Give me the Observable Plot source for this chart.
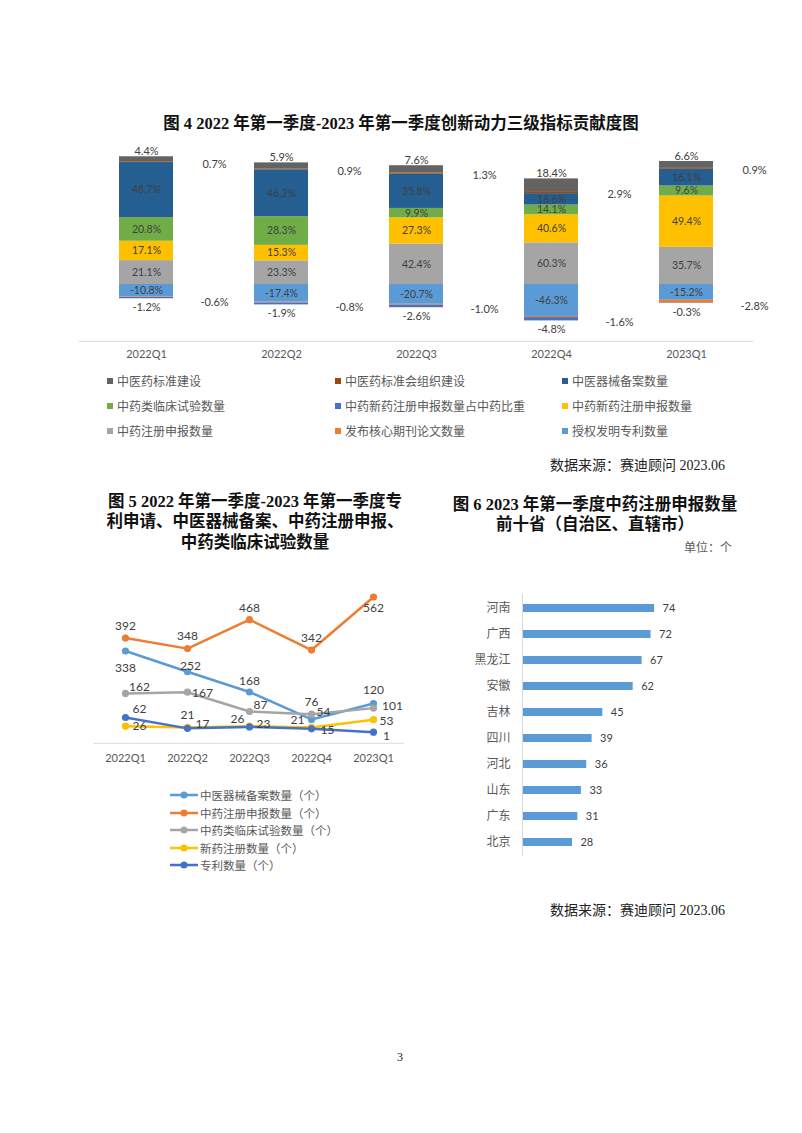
<!DOCTYPE html>
<html><head><meta charset="utf-8">
<script src="https://cdn.jsdelivr.net/npm/d3@7"></script>
<script src="https://cdn.jsdelivr.net/npm/@observablehq/plot@0.6"></script>
<style>
body{margin:0;background:#fff;}
#page{position:relative;width:802px;height:1133px;overflow:hidden;background:#fff;font-family:"Noto Sans CJK SC",sans-serif;}
.abs{position:absolute;}
.title{font-family:"Liberation Serif","Noto Sans CJK SC",serif;font-weight:bold;font-size:16.5px;color:#111;white-space:nowrap;line-height:20.5px;text-align:center;}
.leg{font-family:"Noto Sans CJK SC",sans-serif;font-size:12px;color:#595959;white-space:nowrap;line-height:14px;}
.sw{position:absolute;width:6px;height:6px;}
.src{font-family:"Liberation Serif","Noto Sans CJK SC",serif;font-size:14px;color:#222;white-space:nowrap;line-height:20px;}
svg{overflow:visible}
.mk svg{display:block}
</style></head>
<body><div id="page"></div>
<script>
// ---------- Figure 4 data ----------
const quarters = ["2022Q1","2022Q2","2022Q3","2022Q4","2023Q1"];
const stackSeries = ["授权发明专利数量","发布核心期刊论文数量","中药注册申报数量","中药新药注册申报数量","中药新药注册申报数量占中药比重","中药类临床试验数量","中医器械备案数量","中医药标准会组织建设","中医药标准建设"];
const stackColors = ["#5b9bd5","#ed7d31","#a5a5a5","#ffc000","#4472c4","#70ad47","#255e91","#9e480e","#636363"];
const patents      = [-10.8,-17.4,-20.7,-46.3,-15.2];
const papers       = [-0.6,-0.8,-1.0,-1.6,-2.8];
const tcmReg       = [21.1,23.3,42.4,60.3,35.7];
const newDrugReg   = [17.1,15.3,27.3,40.6,49.4];
const newDrugShare = [-1.2,-1.9,-2.6,-4.8,-0.3];
const clinical     = [20.8,28.3,9.9,14.1,9.6];
const devices      = [48.7,46.2,35.8,16.6,16.1];
const stdOrg       = [0.7,0.9,1.3,2.9,0.9];
const stdBuild     = [4.4,5.9,7.6,18.4,6.6];
const legendOrder = ["中医药标准建设","中医药标准会组织建设","中医器械备案数量","中药类临床试验数量","中药新药注册申报数量占中药比重","中药新药注册申报数量","中药注册申报数量","发布核心期刊论文数量","授权发明专利数量"];

// ---------- Figure 5 data ----------
const lineSeries = ["中医器械备案数量（个）","中药注册申报数量（个）","中药类临床试验数量（个）","新药注册数量（个）","专利数量（个）"];
const lineColors = ["#5b9bd5","#ed7d31","#a5a5a5","#ffc000","#4472c4"];
const deviceCount   = [338,252,168,54,120];
const tcmRegCount   = [392,348,468,342,562];
const clinicalCount = [162,167,87,76,101];
const newDrugCount  = [26,21,26,21,53];
const patentCount   = [62,17,23,15,1];

// ---------- Figure 6 data ----------
const provinces = ["河南","广西","黑龙江","安徽","吉林","四川","河北","山东","广东","北京"];
const provinceCounts = [74,72,67,62,45,39,36,33,31,28];

// ---------- build tables ----------
const stackValues = [patents,papers,tcmReg,newDrugReg,newDrugShare,clinical,devices,stdOrg,stdBuild];
const rows1 = [];
quarters.forEach((q,i)=>{
  const tot = d3.sum(stackValues, arr => Math.abs(arr[i]));
  stackSeries.forEach((s,k)=>{ rows1.push({q, s, v: stackValues[k][i], n: stackValues[k][i]/tot*100}); });
});
const lineValues = [deviceCount,tcmRegCount,clinicalCount,newDrugCount,patentCount];
const rows2 = [];
lineSeries.forEach((s,k)=>quarters.forEach((q,i)=>rows2.push({s,q,i,v:lineValues[k][i]})));
const rows3 = provinces.map((p,i)=>({p, v: provinceCounts[i]}));

const page = document.getElementById("page");
function addDiv(cls, css, html){const d=document.createElement("div");d.className=cls;d.style.cssText=css;d.innerHTML=html;page.appendChild(d);return d;}
function place(node, left, top){node.style.position="absolute";node.style.left=left+"px";node.style.top=top+"px";page.appendChild(node);}

const labelFont = "Lato, 'Open Sans', sans-serif";
const fmt = v => v.toFixed(1) + "%";

// ---------- Figure 4 ----------
addDiv("abs title","left:0;width:802px;top:114px;","图 4 2022 年第一季度-2023 年第一季度创新动力三级指标贡献度图");
const inside = ["授权发明专利数量","中药注册申报数量","中药新药注册申报数量","中药类临床试验数量","中医器械备案数量"];
const chart1 = Plot.plot({
  width: 802, height: 225,
  marginTop: 2, marginBottom: 24.2, marginLeft: 78.5, marginRight: 48.5,
  x: {domain: quarters, paddingInner: 0.6, paddingOuter: 0.3, label: null},
  y: {domain: [-40, 100], axis: null},
  color: {domain: stackSeries, range: stackColors},
  style: {background: "transparent", fontFamily: labelFont, fontSize: "11px"},
  marks: [
    Plot.ruleY([-40], {stroke: "#d9d9d9", strokeWidth: 1}),
    Plot.axisX({tickSize: 0, tickPadding: 9, fill: "#595959", fontSize: 11, fontFamily: labelFont, label: null}),
    Plot.barY(rows1, Plot.stackY({x: "q", y: "n", fill: "s"})),
    Plot.text(rows1, Plot.stackY({x: "q", y: "n", z: "s", text: d => inside.includes(d.s) ? fmt(d.v) : null, fill: "#404040", fontSize: 10.5, fontFamily: labelFont})),
    Plot.text(rows1, Plot.stackY2({x: "q", y: "n", z: "s", text: d => d.s === "中医药标准建设" ? fmt(d.v) : null, fill: "#404040", fontSize: 11, fontFamily: labelFont, dy: -5})),
    Plot.text(rows1, Plot.stackY2({x: "q", y: "n", z: "s", text: d => d.s === "中药新药注册申报数量占中药比重" ? fmt(d.v) : null, fill: "#404040", fontSize: 11, fontFamily: labelFont, dy: 9})),
    Plot.text(rows1, Plot.stackY({x: "q", y: "n", z: "s", text: d => d.s === "中医药标准会组织建设" ? fmt(d.v) : null, fill: "#404040", fontSize: 11, fontFamily: labelFont, dx: 68, dy: 2})),
    Plot.text(rows1, Plot.stackY({x: "q", y: "n", z: "s", text: d => d.s === "发布核心期刊论文数量" ? fmt(d.v) : null, fill: "#404040", fontSize: 11, fontFamily: labelFont, dx: 68, dy: 5}))
  ]
});
place(chart1, 0, 140);

// legend fig 4
const legX = [107, 335, 562], legY = [381, 406, 431];
legendOrder.forEach((s, i) => {
  const col = i % 3, row = Math.floor(i / 3);
  const c = stackColors[stackSeries.indexOf(s)];
  addDiv("sw", `left:${legX[col]}px;top:${legY[row]-3}px;background:${c};`, "");
  addDiv("abs leg", `left:${legX[col]+10}px;top:${legY[row]-7}px;`, s);
});
addDiv("abs src", "right:77px;top:456px;", "数据来源：赛迪顾问 2023.06");

// ---------- Figure 5 ----------
addDiv("abs title","left:55px;width:400px;top:491.5px;","图 5 2022 年第一季度-2023 年第一季度专<br>利申请、中医器械备案、中药注册申报、<br>中药类临床试验数量");
const nudges = [
  [[0,17],[3,-6],[0,-11],[12,-7],[0,-13]],
  [[0,-12],[0,-12],[0,-12],[0,-12],[0,11]],
  [[14,-6],[15,1],[11,-6],[0,-12],[19,-2]],
  [[14,0],[0,-12],[-12,-7],[-14,-7],[13,1]],
  [[14,-8],[15,-4],[14,-3],[16,1],[13,4]]
];
const labelMarks2 = [];
lineSeries.forEach((s, k) => quarters.forEach((q, i) => {
  const [dx, dy] = nudges[k][i];
  labelMarks2.push(Plot.text(rows2.filter(d => d.s === s && d.i === i), {x: "q", y: "v", text: d => String(d.v), dx, dy, fill: "#404040", fontSize: 12, fontFamily: labelFont}));
}));
const chart2 = Plot.plot({
  width: 430, height: 195,
  marginTop: 7.4, marginBottom: 32.2, marginLeft: 94, marginRight: 26,
  x: {type: "point", domain: quarters, padding: 0.5, label: null},
  y: {domain: [-45, 600], axis: null},
  color: {domain: lineSeries, range: lineColors},
  style: {background: "transparent", fontFamily: labelFont},
  marks: [
    Plot.ruleY([-45], {stroke: "#d9d9d9", strokeWidth: 1}),
    Plot.axisX({tickSize: 0, tickPadding: 11, fill: "#595959", fontSize: 11, fontFamily: labelFont, label: null}),
    Plot.line(rows2, {x: "q", y: "v", z: "s", stroke: "s", strokeWidth: 2.5}),
    Plot.dot(rows2, {x: "q", y: "v", fill: "s", r: 3.6}),
    ...labelMarks2
  ]
});
place(chart2, 0, 580);

// legend fig 5
const leg2Y = [795, 812.5, 830, 847.5, 865];
lineSeries.forEach((s, k) => {
  addDiv("abs mk", `left:170px;top:${leg2Y[k]-4}px;width:28px;height:8px;line-height:0;`,
    `<svg width="28" height="8"><line x1="0" y1="4" x2="28" y2="4" stroke="${lineColors[k]}" stroke-width="2.5"/><circle cx="14" cy="4" r="3.5" fill="${lineColors[k]}"/></svg>`);
  addDiv("abs leg", `left:200px;top:${leg2Y[k]-7}px;font-size:11.5px;`, s);
});

// ---------- Figure 6 ----------
addDiv("abs title","left:395px;width:400px;top:494.5px;","图 6 2023 年第一季度中药注册申报数量<br>前十省（自治区、直辖市）");
addDiv("abs leg","right:70px;top:540px;","单位：个");
const chart3 = Plot.plot({
  width: 330, height: 280,
  marginTop: 9, marginBottom: 9, marginLeft: 92, marginRight: 95.2,
  x: {domain: [0, 80], axis: null},
  y: {domain: provinces, paddingInner: 0.68, paddingOuter: 0.34, label: null},
  style: {background: "transparent", fontFamily: labelFont},
  marks: [
    Plot.barX(rows3, {x: "v", y: "p", fill: "#5b9bd5"}),
    Plot.ruleX([0], {stroke: "#d9d9d9", strokeWidth: 1}),
    Plot.axisY({tickSize: 0, tickPadding: 12, fill: "#595959", fontSize: 12, fontFamily: "'Noto Sans CJK SC', sans-serif", label: null}),
    Plot.text(rows3, {x: "v", y: "p", text: d => String(d.v), textAnchor: "start", dx: 8, fill: "#404040", fontSize: 11, fontFamily: labelFont})
  ]
});
place(chart3, 430, 585);

addDiv("abs src", "right:77px;top:901px;", "数据来源：赛迪顾问 2023.06");
addDiv("abs", "left:390px;width:20px;top:1050px;text-align:center;font-family:'Liberation Serif',serif;font-size:12px;color:#222;", "3");
</script>
</body></html>
